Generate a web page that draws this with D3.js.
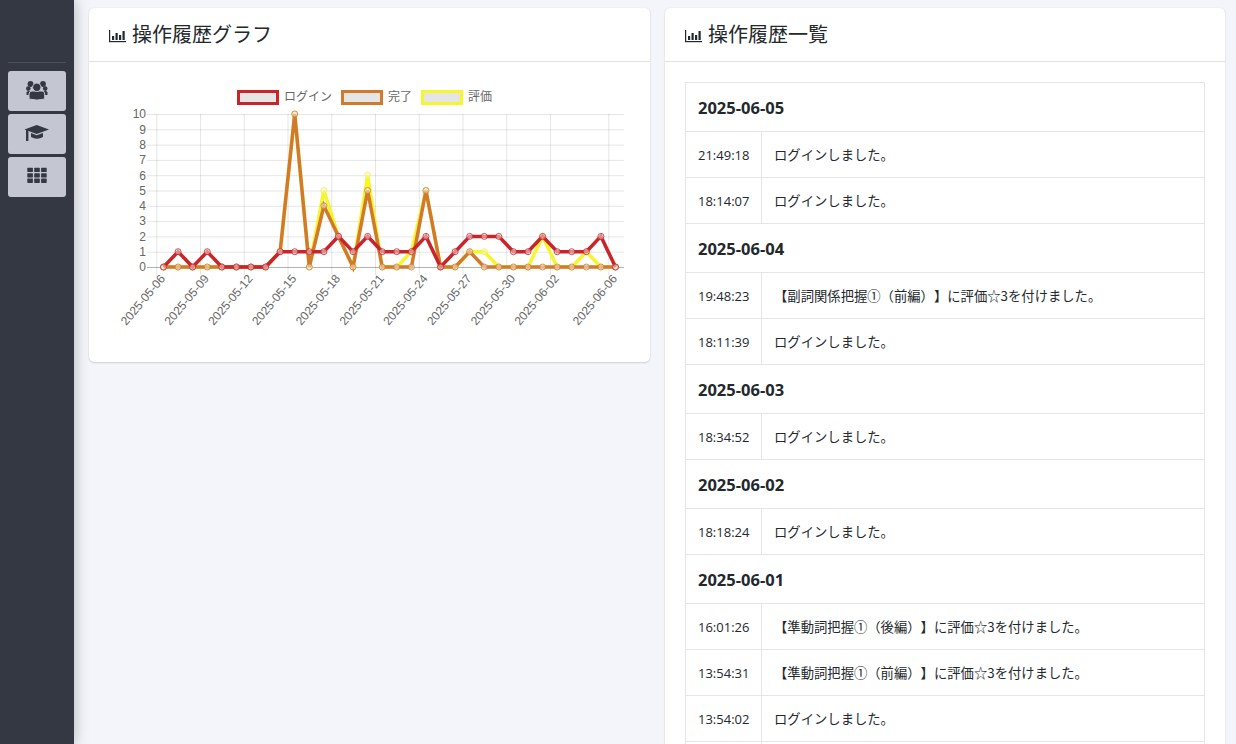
<!DOCTYPE html>
<html>
<head>
<meta charset="utf-8">
<script src="https://cdn.jsdelivr.net/npm/d3@7"></script>
<style>
  html, body { margin: 0; height: 100%; overflow: hidden; background: #f3f5fa; }
  body { font-family: "Open Sans", "Noto Sans CJK JP", sans-serif; color: #23282c; width: 1236px; height: 744px; position: relative; }
  #sidebar { position: absolute; left: 0; top: 0; width: 74px; height: 744px; background: #343842; box-shadow: 0 0 14px rgba(0,0,0,.28); z-index: 3; }
  .card { position: absolute; background: #fff; border-radius: 5px; box-shadow: 0 0 1px rgba(0,0,0,.15), 0 1px 2px rgba(0,0,0,.14); box-sizing: border-box; }
  .head { position: absolute; left: 0; right: 0; top: 0; height: 54px; border-bottom: 1px solid #dfe1e6; box-sizing: border-box; }
  .head span { position: absolute; left: 43px; top: 11px; font-size: 20px; line-height: 30px; font-family: "Noto Sans CJK JP", sans-serif; white-space: nowrap; }
  #left { left: 89px; top: 8px; width: 561px; height: 354px; }
  #right { left: 665px; top: 8px; width: 560px; height: 760px; }
  #chart { position: absolute; left: 0; top: 0; z-index: 2; }
  #icons { position: absolute; left: 0; top: 0; z-index: 4; }
  #log { position: absolute; left: 20px; top: 74px; width: 520px; border-collapse: collapse; table-layout: fixed; }
  #log td { border: 1px solid #e3e5e9; padding: 0 0 0 12px; box-sizing: border-box; height: 46px; font-size: 13px; white-space: nowrap; }
  #log td.date { height: 49px; font-weight: 700; font-size: 16.5px; }
  #log td.msg { font-family: "Noto Sans CJK JP", sans-serif; font-size: 13.33px; text-spacing-trim: space-all; }
  #log col.t { width: 76px; }
  .tick text { font-family: "Liberation Sans", Arial, sans-serif; font-size: 12px; fill: #666; }
  .legend text { font-family: "Noto Sans CJK JP", sans-serif; font-size: 12px; fill: #666; }
</style>
</head>
<body>
<div id="sidebar"></div>
<div class="card" id="left"><div class="head"><span>操作履歴グラフ</span></div></div>
<div class="card" id="right">
  <div class="head"><span>操作履歴一覧</span></div>
  <table id="log"><colgroup><col class="t"><col></colgroup><tbody></tbody></table>
</div>
<svg id="chart" width="1236" height="744"></svg>
<svg id="icons" width="1236" height="744"></svg>

<script type="text/javascript">
// chart data, one value per day
var days = ["2025-05-06","2025-05-07","2025-05-08","2025-05-09","2025-05-10","2025-05-11","2025-05-12","2025-05-13",
  "2025-05-14","2025-05-15","2025-05-16","2025-05-17","2025-05-18","2025-05-19","2025-05-20","2025-05-21",
  "2025-05-22","2025-05-23","2025-05-24","2025-05-25","2025-05-26","2025-05-27","2025-05-28","2025-05-29",
  "2025-05-30","2025-05-31","2025-06-01","2025-06-02","2025-06-03","2025-06-04","2025-06-05","2025-06-06"];
var tickDays = ["2025-05-06","2025-05-09","2025-05-12","2025-05-15","2025-05-18","2025-05-21",
  "2025-05-24","2025-05-27","2025-05-30","2025-06-02","2025-06-06"];
var yTicks = [0,1,2,3,4,5,6,7,8,9,10];
var seriesNames = ["ログイン","完了","評価"];
var loginValues =    [0,1,0,1,0,0,0,0,1,1,1,1,2,1,2,1,1,1,2,0,1,2,2,2,1,1,2,1,1,1,2,0];
var completeValues = [0,0,0,0,0,0,0,0,1,10,0,4,2,0,5,0,0,0,5,0,0,1,0,0,0,0,0,0,0,0,0,0];
var ratingValues =   [0,0,0,0,0,0,0,0,1,10,0,5,2,0,6,0,0,1,5,0,0,1,1,0,0,0,2,0,0,1,0,0];

// operation log, right hand card
var logDates = ["2025-06-05","2025-06-04","2025-06-03","2025-06-02","2025-06-01"];
var logTimes = [["21:49:18","18:14:07"],["19:48:23","18:11:39"],["18:34:52"],["18:18:24"],["16:01:26","13:54:31","13:54:02"]];
var loginMsg = "ログインしました。";
var logMessages = [
  [loginMsg, loginMsg],
  ["【副詞関係把握①（前編）】に評価☆3を付けました。", loginMsg],
  [loginMsg],
  [loginMsg],
  ["【準動詞把握①（後編）】に評価☆3を付けました。", "【準動詞把握①（前編）】に評価☆3を付けました。", loginMsg]
];

var seriesColors = ["#c8242a","#d27a2b","#f6f62c"];
var color = d3.scaleOrdinal(seriesNames, seriesColors);
var seriesValues = [loginValues, completeValues, ratingValues];

var svg = d3.select("#chart");
var x = d3.scalePoint().domain(days).range([163.5, 615.5]);
var y = d3.scaleLinear().domain([0, 10]).range([267, 114]);
var gridShift = -7.2;   // grid lines sit a bit left of the points

// horizontal grid, long inner ticks from the right edge
var yAxis = d3.axisLeft(y).tickValues(yTicks).tickSize(477).tickPadding(1);
var yG = svg.append("g").attr("transform", "translate(624,0)").call(yAxis);
yG.select(".domain").remove();
yG.selectAll("line").attr("stroke", function(d) { return d === 0 ? "rgba(0,0,0,.3)" : "rgba(0,0,0,.1)"; });

// vertical grid and rotated labels
var xAxis = d3.axisBottom(x).tickValues(tickDays).tickSize(161);
var xG = svg.append("g").attr("transform", "translate(" + gridShift + ",114)").call(xAxis);
xG.select(".domain").remove();
xG.selectAll("line").attr("stroke", "rgba(0,0,0,.1)");
xG.selectAll("text")
  .attr("text-anchor", "end")
  .attr("dy", null)
  .attr("y", null)
  .attr("transform", "translate(9,165) rotate(-50)");

// legend
var legendX = 237;
seriesNames.forEach(function(name) {
  var g = svg.append("g").attr("class", "legend");
  g.append("rect").attr("x", legendX + 1.5).attr("y", 91.5).attr("width", 39).attr("height", 12)
    .attr("fill", "#e5e5e5").attr("stroke", color(name)).attr("stroke-width", 3);
  var t = g.append("text").attr("x", legendX + 47).attr("y", 101).text(name);
  legendX += 46 + t.node().getComputedTextLength() + 10;
});

// the first series has to end up on top
var line = d3.line().x(function(d, i) { return x(days[i]); }).y(function(d) { return y(d); });
d3.range(seriesNames.length).reverse().forEach(function(s) {
  var name = seriesNames[s];
  svg.append("path").datum(seriesValues[s]).attr("d", line)
    .attr("fill", "none").attr("stroke", color(name)).attr("stroke-width", 3.5)
    .attr("stroke-linejoin", "miter");
  svg.append("g").selectAll("circle").data(seriesValues[s]).enter().append("circle")
    .attr("cx", function(d, i) { return x(days[i]); })
    .attr("cy", function(d) { return y(d); })
    .attr("r", 3)
    .attr("fill", "rgba(240,240,240,.5)")
    .attr("stroke", color(name)).attr("stroke-opacity", .8);
});

// log table
var tbody = d3.select("#log tbody");
logDates.forEach(function(date, i) {
  tbody.append("tr").append("td").attr("class", "date").attr("colspan", 2).text(date);
  logTimes[i].forEach(function(time, j) {
    var tr = tbody.append("tr");
    tr.append("td").text(time);
    tr.append("td").attr("class", "msg").text(logMessages[i][j]);
  });
});
// the next row is cut off by the window
var lastRow = tbody.append("tr");
lastRow.append("td");
lastRow.append("td");

// icons
var ic = d3.select("#icons");
var dark = "#343842";
var light = "#c4c7d1";
ic.append("line").attr("x1", 8).attr("x2", 66).attr("y1", 62.5).attr("y2", 62.5).attr("stroke", "#4d515c");
[71, 114, 157].forEach(function(top) {
  ic.append("rect").attr("x", 8).attr("y", top).attr("width", 58).attr("height", 40).attr("rx", 3).attr("fill", light);
});
// people, outer ones first, the middle one has a light ring around it
[[30.5,84,2.9],[43,84,2.9],[28.3,88.6,2.3],[45.2,88.6,2.3]].forEach(function(c) {
  ic.append("circle").attr("cx", c[0]).attr("cy", c[1]).attr("r", c[2]).attr("fill", dark);
});
ic.append("path").attr("fill", dark).attr("d", "M26.5 95 v-2.5 q0 -1.5 2 -1.5 h17 q2 0 2 1.5 v2.5z");
ic.append("path").attr("fill", dark).attr("stroke", light).attr("d", "M29 99 v-5 q0 -3 3 -3 h10 q2.7 0 2.7 3 v5 q-7.8 2.2 -15.7 0z");
ic.append("circle").attr("cx", 36.8).attr("cy", 87.3).attr("r", 4.2).attr("fill", dark).attr("stroke", light);
// graduation cap
ic.append("path").attr("fill", dark).attr("d", "M36.7 125 L49 129.5 L36.7 134 L24.5 129.5z M31 133 l5.7 2.2 6.3 -2.2 v4 q-6 3.5 -12 0z");
ic.append("rect").attr("x", 26).attr("y", 130).attr("width", 2.4).attr("height", 11).attr("fill", dark);
// grid
d3.range(3).forEach(function(r) {
  d3.range(3).forEach(function(c) {
    ic.append("rect").attr("x", 27.3 + c * 6.9).attr("y", 167.8 + r * 5.4).attr("width", 5.6).attr("height", 4.3).attr("rx", .6).attr("fill", dark);
  });
});
// bar chart icon in both card heads
[109, 685].forEach(function(left) {
  var g = ic.append("g").attr("transform", "translate(" + left + ",30)").attr("fill", "#23282c");
  g.append("rect").attr("x", 0).attr("y", 0).attr("width", 1.2).attr("height", 12);
  g.append("rect").attr("x", 0).attr("y", 11).attr("width", 17).attr("height", 1.2);
  [[3,6],[6.5,3],[10,5],[13.5,1]].forEach(function(b) {
    g.append("rect").attr("x", b[0]).attr("y", b[1]).attr("width", 2.2).attr("height", 10 - b[1]);
  });
});
</script>
</body>
</html>
